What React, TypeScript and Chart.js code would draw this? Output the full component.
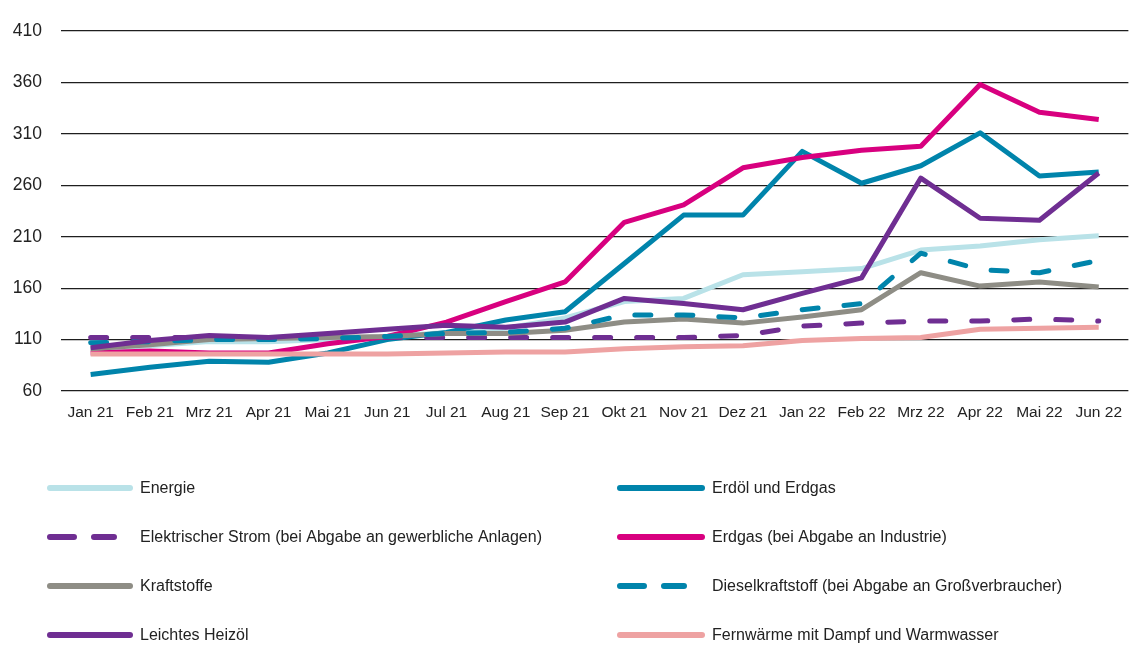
import React, { useEffect, useRef } from "react";
import { Chart, registerables } from "chart.js";

Chart.register(...registerables);

const labels = [
  "Jan 21", "Feb 21", "Mrz 21", "Apr 21", "Mai 21", "Jun 21", "Jul 21", "Aug 21", "Sep 21",
  "Okt 21", "Nov 21", "Dez 21", "Jan 22", "Feb 22", "Mrz 22", "Apr 22", "Mai 22", "Jun 22",
];

const energie = [100, 104, 108, 108, 110, 113, 117, 121, 131, 147, 150, 173, 176, 179, 197, 201, 207, 211];
const erdoelErdgas = [76, 83, 89, 88, 97, 110, 117, 129, 137, 184, 231, 231, 293, 262, 279, 311, 269, 273];
const strom = [112, 112, 112, 112, 112, 112, 112, 112, 112, 112, 112, 114, 123, 126, 128, 128, 130, 128];
const erdgas = [97, 99, 97, 97, 106, 113, 127, 147, 166, 224, 241, 277, 287, 294, 298, 358, 331, 324];
const kraftstoffe = [101, 105, 110, 111, 112, 113, 116, 116, 119, 127, 130, 126, 132, 139, 175, 162, 166, 161];
const diesel = [107, 108, 110, 110, 111, 113, 116, 117, 121, 134, 134, 131, 139, 145, 194, 178, 175, 187];
const heizoel = [102, 109, 114, 112, 116, 120, 124, 122, 127, 150, 145, 139, 155, 170, 267, 228, 226, 272];
const fernwaerme = [96, 96, 96, 96, 96, 96, 97, 98, 98, 101, 103, 104, 109, 111, 112, 120, 121, 122];

const seriesNames = [
  "Energie",
  "Erdöl und Erdgas",
  "Elektrischer Strom (bei Abgabe an gewerbliche Anlagen)",
  "Erdgas (bei Abgabe an Industrie)",
  "Kraftstoffe",
  "Dieselkraftstoff (bei Abgabe an Großverbraucher)",
  "Leichtes Heizöl",
  "Fernwärme mit Dampf und Warmwasser",
];
const seriesValues = [energie, erdoelErdgas, strom, erdgas, kraftstoffe, diesel, heizoel, fernwaerme];
const seriesColors = ["#b9e2e8", "#0084ab", "#6f2e92", "#d8007f", "#8e8d85", "#0084ab", "#6f2e92", "#eea2a2"];
const seriesDashed = [false, false, true, false, false, true, false, false];

const FONT = "'Liberation Sans', Arial, sans-serif";

const legendPlugin = {
  id: "customLegend",
  afterDraw(chart: any) {
    const ctx = chart.ctx;
    const cols = [
      { x0: 50, x1: 130, tx: 140 },
      { x0: 620, x1: 702, tx: 712 },
    ];
    const rows = [488, 537, 586, 635];
    ctx.save();
    chart.data.datasets.forEach((ds: any, i: number) => {
      const c = cols[i % 2];
      const y = rows[Math.floor(i / 2)];
      ctx.strokeStyle = ds.borderColor;
      ctx.lineWidth = 6;
      ctx.lineCap = "round";
      if (ds.borderDash && ds.borderDash.length) {
        ctx.beginPath();
        ctx.moveTo(c.x0, y);
        ctx.lineTo(c.x0 + 24, y);
        ctx.moveTo(c.x0 + 44, y);
        ctx.lineTo(c.x0 + 64, y);
        ctx.stroke();
      } else {
        ctx.beginPath();
        ctx.moveTo(c.x0, y);
        ctx.lineTo(c.x1, y);
        ctx.stroke();
      }
      ctx.fillStyle = "#222";
      ctx.font = `16px ${FONT}`;
      ctx.textBaseline = "middle";
      ctx.textAlign = "left";
      ctx.fillText(ds.label, c.tx, y + 1);
    });
    ctx.restore();
  },
};

export default function App() {
  const ref = useRef<HTMLCanvasElement | null>(null);

  useEffect(() => {
    if (!ref.current) return;
    const datasets = seriesNames.map((name, i) => ({
      label: name,
      data: seriesValues[i],
      borderColor: seriesColors[i],
      backgroundColor: seriesColors[i],
      borderWidth: 5,
      borderDash: seriesDashed[i] ? [16, 26] : [],
      borderCapStyle: seriesDashed[i] ? "round" : "butt",
      borderJoinStyle: "round",
      pointRadius: 0,
      pointHoverRadius: 0,
      tension: 0,
      fill: false,
      order: seriesNames.length - i,
    }));

    const chart = new Chart(ref.current, {
      type: "line",
      data: { labels, datasets: datasets as any },
      options: {
        responsive: false,
        animation: false,
        layout: { padding: { left: 0, right: 0, top: 31, bottom: 215 } },
        plugins: {
          legend: { display: false },
          tooltip: { enabled: false },
          title: { display: false },
        },
        scales: {
          x: {
            offset: true,
            grid: { display: false, drawTicks: false },
            border: { display: false },
            ticks: {
              padding: 12,
              color: "#222",
              font: { family: FONT, size: 15.5 },
              maxRotation: 0,
              autoSkip: false,
            },
            afterFit: (scale: any) => {
              scale.height = 40;
            },
          },
          y: {
            min: 60,
            max: 410,
            grid: { color: "#1e1e1e", lineWidth: 1.2, drawTicks: false },
            border: { display: false },
            ticks: {
              stepSize: 50,
              padding: 19,
              color: "#222",
              font: { family: FONT, size: 17.5 },
            },
            afterFit: (scale: any) => {
              scale.width = 61;
            },
          },
        },
      },
      plugins: [legendPlugin],
    });
    return () => chart.destroy();
  }, []);

  return (
    <div
      style={{
        position: "absolute",
        left: 0,
        top: 0,
        width: 1129,
        height: 646,
        overflow: "hidden",
        background: "#fff",
      }}
    >
      <canvas ref={ref} width={1134} height={646} style={{ display: "block" }} />
    </div>
  );
}
